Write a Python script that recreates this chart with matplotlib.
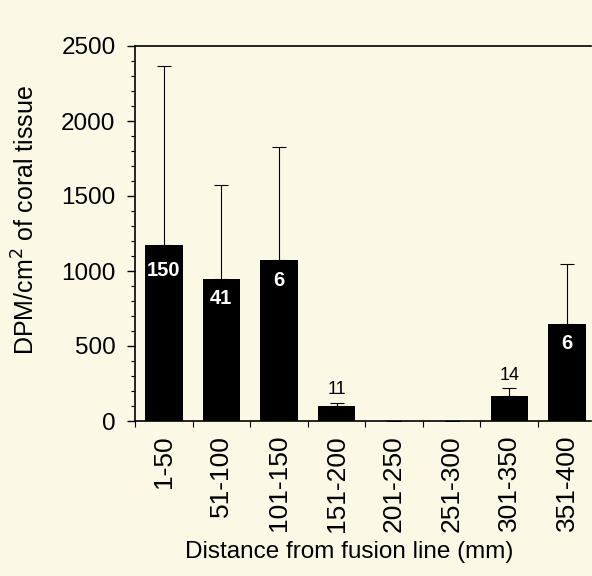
import matplotlib
matplotlib.use("Agg")
import matplotlib.pyplot as plt
import numpy as np

# data
distances = ['1-50', '51-100', '101-150', '151-200', '201-250', '251-300', '301-350', '351-400']
dpm_means = [1175, 946, 1075, 102, 0, 0, 165, 650]
dpm_upper_err = [1194, 625, 752, 21, 0, 0, 54, 400]
sample_n = ['150', '41', '6', '11', '', '', '14', '6']
label_inside = [True, True, True, False, False, False, False, True]
label_height = [1000, 815, 940, 210, 0, 0, 300, 515]

plt.rcParams['font.family'] = ['Liberation Sans', 'DejaVu Sans']
bg = '#fcf8e6'

fig = plt.figure(figsize=(5.92, 5.76), dpi=100, facecolor=bg)
ax = fig.add_axes([135 / 592, 1 - 421 / 576, 456 / 592, 375 / 576], facecolor=bg)

x = np.arange(len(distances))
ax.bar(x, dpm_means, width=0.65, color='black', zorder=2)
ax.errorbar(x, dpm_means, yerr=[np.zeros(len(x)), dpm_upper_err], fmt='none',
            ecolor='black', elinewidth=0.8, capsize=5, capthick=0.8, zorder=1)

for xi, n, inside, h in zip(x, sample_n, label_inside, label_height):
    if not n:
        continue
    if inside:
        ax.text(xi, h, n, color='white', ha='center', va='center',
                fontsize=14.5, fontweight='bold', zorder=3)
    else:
        ax.text(xi, h, n, color='black', ha='center', va='center',
                fontsize=13, zorder=3)

ax.set_xlim(-0.5, 7.42)
ax.set_ylim(0, 2500)
ax.set_yticks(np.arange(0, 2501, 500))
ax.set_yticks(np.arange(0, 2501, 100), minor=True)
ax.set_xticks(x)
ax.set_xticklabels(distances, rotation=90)
ax.set_xticks(np.arange(-0.5, 7.5, 1), minor=True)
ax.tick_params(axis='x', which='major', length=0, pad=10, labelsize=19)
ax.tick_params(axis='x', which='minor', length=4, width=0.8, direction='out')
ax.tick_params(axis='y', which='major', length=6, width=1, labelsize=17.5, pad=8)
ax.tick_params(axis='y', which='minor', length=3, width=0.8)

ax.spines['right'].set_visible(False)
for s in ['left', 'top', 'bottom']:
    ax.spines[s].set_linewidth(1.2)

ax.set_xlabel('Distance from fusion line (mm)', fontsize=17.5)
ax.set_ylabel('DPM/cm$^2$ of coral tissue', fontsize=18)
ax.xaxis.set_label_coords(0.469, -0.32)
ax.yaxis.set_label_coords(-0.21, 0.536)

fig.savefig('out.png', dpi=100, facecolor=bg)
